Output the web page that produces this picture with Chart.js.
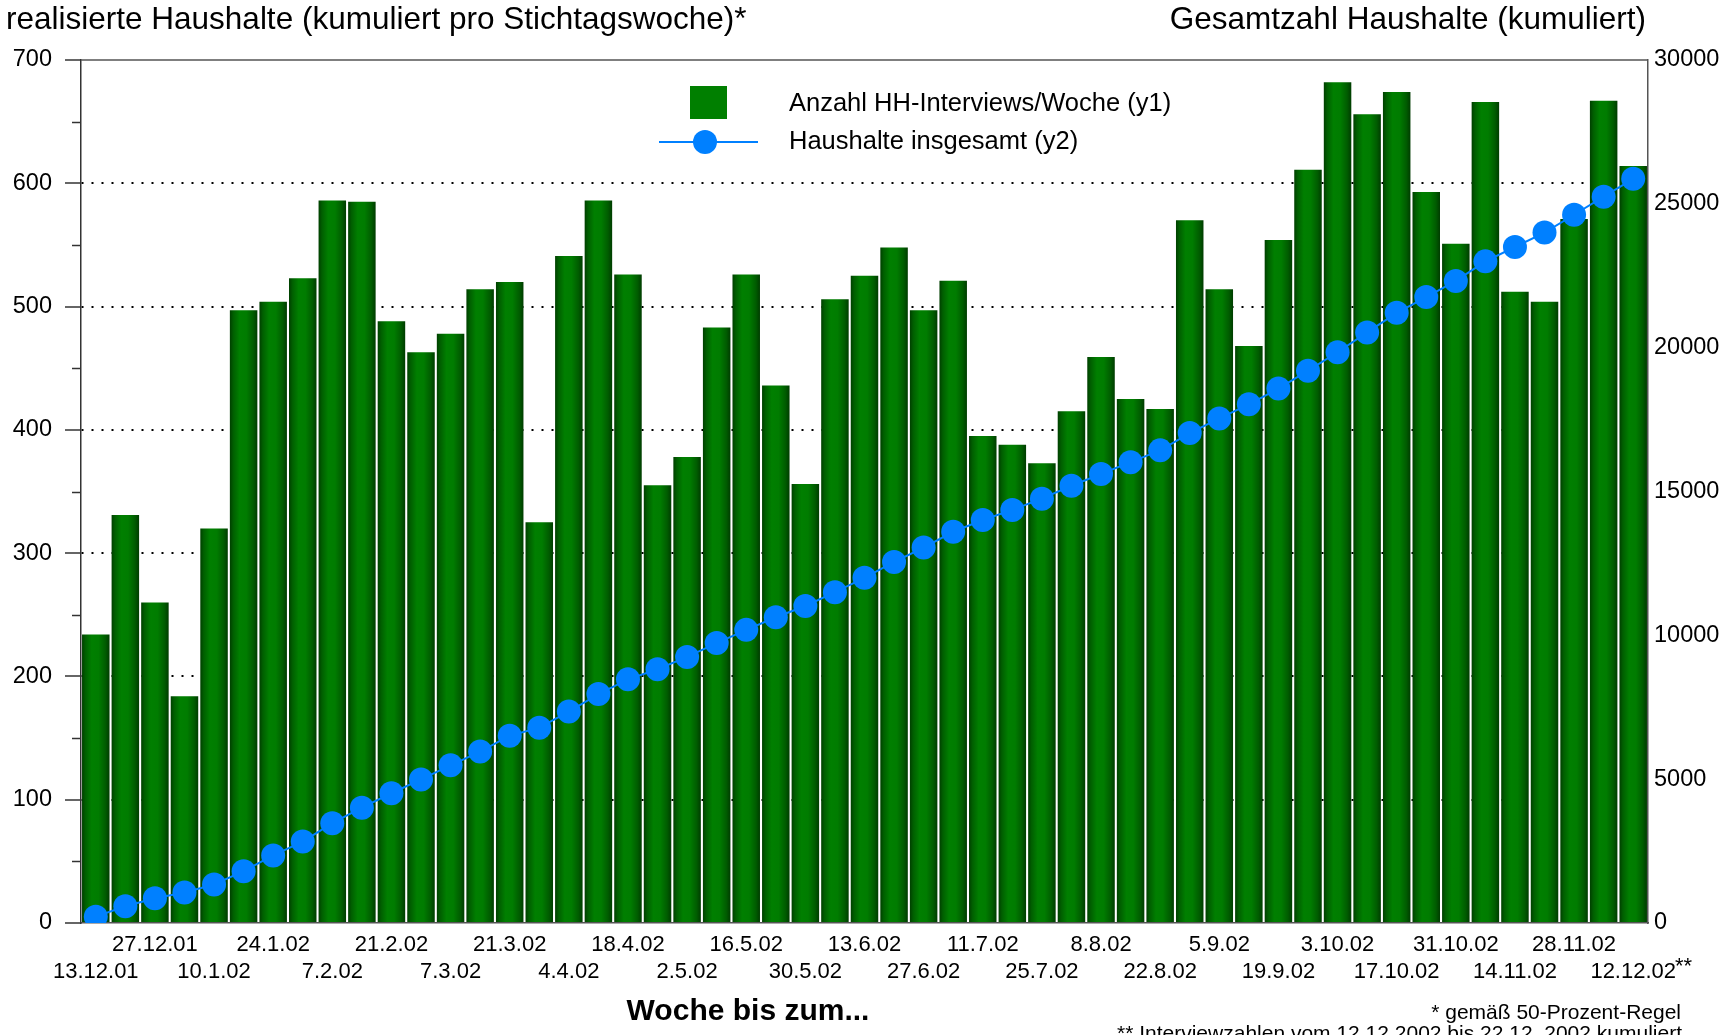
<!DOCTYPE html>
<html><head><meta charset="utf-8">
<script src="https://cdn.jsdelivr.net/npm/chart.js@4.4.1/dist/chart.umd.min.js"></script>
<style>html,body{margin:0;padding:0;background:#fff;overflow:hidden}</style>
</head><body>
<canvas id="c" width="1727" height="1035"></canvas>
<script>
const weeks = ['13.12.01','20.12.01','27.12.01','3.1.02','10.1.02','17.1.02','24.1.02','31.1.02','7.2.02','14.2.02',
  '21.2.02','28.2.02','7.3.02','14.3.02','21.3.02','28.3.02','4.4.02','11.4.02','18.4.02','25.4.02',
  '2.5.02','9.5.02','16.5.02','23.5.02','30.5.02','6.6.02','13.6.02','20.6.02','27.6.02','4.7.02',
  '11.7.02','18.7.02','25.7.02','1.8.02','8.8.02','15.8.02','22.8.02','29.8.02','5.9.02','12.9.02',
  '19.9.02','26.9.02','3.10.02','10.10.02','17.10.02','24.10.02','31.10.02','7.11.02','14.11.02','21.11.02',
  '28.11.02','5.12.02','12.12.02'];
const interviewsPerWeek = [234,331,260,184,320,497,504,523,586,585,
  488,463,478,514,520,325,541,586,526,355,
  378,483,526,436,356,506,525,548,497,521,
  395,388,373,415,459,425,417,570,514,468,
  554,611,682,656,674,593,551,666,512,504,
  571,667,614];
const householdsTotal = [220,580,860,1060,1340,1800,2350,2830,3470,4010,
  4510,4990,5480,5960,6510,6790,7350,7960,8470,8820,
  9250,9730,10190,10630,11020,11500,12000,12550,13050,13600,
  14010,14360,14750,15200,15610,16020,16430,17030,17540,18030,
  18580,19200,19840,20530,21210,21760,22320,23000,23500,24000,
  24620,25250,25870];
const seriesNames = ['Anzahl HH-Interviews/Woche (y1)', 'Haushalte insgesamt (y2)'];
const leftTicks = [0,100,200,300,400,500,600,700];
const leftMinorTicks = [50,150,250,350,450,550,650];
const rightTicks = [0,5000,10000,15000,20000,25000,30000];
const titleLeft = 'realisierte Haushalte (kumuliert pro Stichtagswoche)*';
const titleRight = 'Gesamtzahl Haushalte (kumuliert)';
const xTitle = 'Woche bis zum...';
const footnote1 = '* gemäß 50-Prozent-Regel';
const footnote2 = '** Interviewzahlen vom 12.12.2002 bis 22.12. 2002 kumuliert';
const lastLabelMark = '**';

const FONT = '"Liberation Sans", Arial, Helvetica, sans-serif';
const BAR_PCT = 0.93;

function barGradient(c) {
  const chart = c.chart;
  const xs = chart.scales && chart.scales.x;
  if (c.type !== 'data' || !xs || !chart.chartArea) return '#007000';
  const cx = xs.getPixelForValue(c.dataIndex);
  const w = xs.width / weeks.length * BAR_PCT;
  const g = chart.ctx.createLinearGradient(cx - w / 2, 0, cx + w / 2, 0);
  g.addColorStop(0, '#003f00');
  g.addColorStop(0.12, '#005e00');
  g.addColorStop(0.35, '#007f00');
  g.addColorStop(0.6, '#007c00');
  g.addColorStop(0.85, '#005c00');
  g.addColorStop(1, '#003c00');
  return g;
}

const decor = {
  id: 'decor',
  afterDraw(chart) {
    const ctx = chart.ctx;
    const a = chart.chartArea;
    const y = chart.scales.y;
    ctx.save();
    ctx.strokeStyle = '#555';
    ctx.lineWidth = 1.5;
    ctx.beginPath();
    ctx.moveTo(a.left, a.top);
    ctx.lineTo(a.right, a.top);
    ctx.stroke();
    ctx.strokeStyle = '#333';
    leftMinorTicks.forEach(v => {
      const py = Math.round(y.getPixelForValue(v)) + 0.5;
      ctx.beginPath();
      ctx.moveTo(a.left - 9, py);
      ctx.lineTo(a.left, py);
      ctx.stroke();
    });
    ctx.fillStyle = '#000';
    ctx.textBaseline = 'middle';
    ctx.font = '31.5px ' + FONT;
    ctx.textAlign = 'left';
    ctx.fillText(titleLeft, 6, 20);
    ctx.textAlign = 'right';
    ctx.fillText(titleRight, 1646, 20);
    ctx.font = 'bold 30px ' + FONT;
    ctx.textAlign = 'center';
    ctx.fillText(xTitle, 748, 1012);
    ctx.font = '21px ' + FONT;
    ctx.textAlign = 'right';
    ctx.fillText(footnote1, 1681, 1013);
    ctx.fillText(footnote2, 1682, 1034);
    const xs = chart.scales.x;
    const lx = xs.getPixelForValue(weeks.length - 1);
    ctx.font = '22px ' + FONT;
    const wLast = ctx.measureText(weeks[weeks.length - 1]).width;
    ctx.textAlign = 'left';
    ctx.fillText(lastLabelMark, lx + wLast / 2 - 1, 967);
    const barDs = chart.data.datasets[1];
    const lineDs = chart.data.datasets[0];
    ctx.fillStyle = '#007f00';
    ctx.fillRect(690, 86, 37, 33);
    ctx.strokeStyle = lineDs.borderColor;
    ctx.lineWidth = 2;
    ctx.beginPath();
    ctx.moveTo(659, 142);
    ctx.lineTo(758, 142);
    ctx.stroke();
    ctx.fillStyle = lineDs.borderColor;
    ctx.beginPath();
    ctx.arc(705, 142, 12, 0, Math.PI * 2);
    ctx.fill();
    ctx.fillStyle = '#000';
    ctx.font = '25.5px ' + FONT;
    ctx.textAlign = 'left';
    ctx.fillText(barDs.label, 789, 104);
    ctx.fillText(lineDs.label, 789, 142);
    ctx.restore();
  }
};

new Chart(document.getElementById('c'), {
  type: 'bar',
  data: {
    labels: weeks,
    datasets: [
      {
        type: 'line', label: seriesNames[1], data: householdsTotal, yAxisID: 'y2',
        borderColor: '#0080ff', backgroundColor: '#0080ff', borderWidth: 2,
        pointRadius: 12, pointHoverRadius: 12, pointBackgroundColor: '#0080ff',
        pointBorderWidth: 0, tension: 0, order: 0
      },
      {
        type: 'bar', label: seriesNames[0], data: interviewsPerWeek, yAxisID: 'y',
        backgroundColor: barGradient, borderWidth: 0,
        categoryPercentage: 1, barPercentage: BAR_PCT, order: 1
      }
    ]
  },
  options: {
    responsive: false, animation: false, devicePixelRatio: 1,
    layout: { padding: { top: 60, left: 0, right: 0, bottom: 0 } },
    plugins: { legend: { display: false }, tooltip: { enabled: false } },
    scales: {
      x: {
        offset: true,
        grid: { display: false, drawTicks: false },
        border: { display: true, color: '#555', width: 1.5 },
        ticks: {
          autoSkip: false, maxRotation: 0, minRotation: 0, padding: 9, color: '#000',
          font: { family: FONT, size: 22 },
          callback: function (v, i) {
            if (i % 4 === 0) return ['', weeks[i]];
            if (i % 4 === 2) return [weeks[i], ''];
            return '';
          }
        },
        afterFit(s) { s.height = 112; }
      },
      y: {
        position: 'left', min: 0, max: 700,
        afterBuildTicks(s) { s.ticks = leftTicks.map(v => ({ value: v })); },
        grid: {
          color: c => (c.tick && (c.tick.value === 0 || c.tick.value === 700)) ? 'rgba(0,0,0,0)' : '#000',
          lineWidth: 2, drawTicks: true, tickLength: 16, tickColor: '#333', tickWidth: 1.5
        },
        border: { display: true, color: '#333', width: 1.5, dash: [2, 8] },
        ticks: { padding: 13, color: '#000', font: { family: FONT, size: 23.5 }, callback: v => String(v) },
        afterFit(s) { s.width = 81; }
      },
      y2: {
        position: 'right', min: 0, max: 30000,
        afterBuildTicks(s) { s.ticks = rightTicks.map(v => ({ value: v })); },
        grid: { drawOnChartArea: false, drawTicks: false },
        border: { display: true, color: '#555', width: 1.5 },
        ticks: { padding: 6, color: '#000', font: { family: FONT, size: 23.5 }, callback: v => String(v) },
        afterFit(s) { s.width = 79; }
      }
    }
  },
  plugins: [decor]
});
</script>
</body></html>
